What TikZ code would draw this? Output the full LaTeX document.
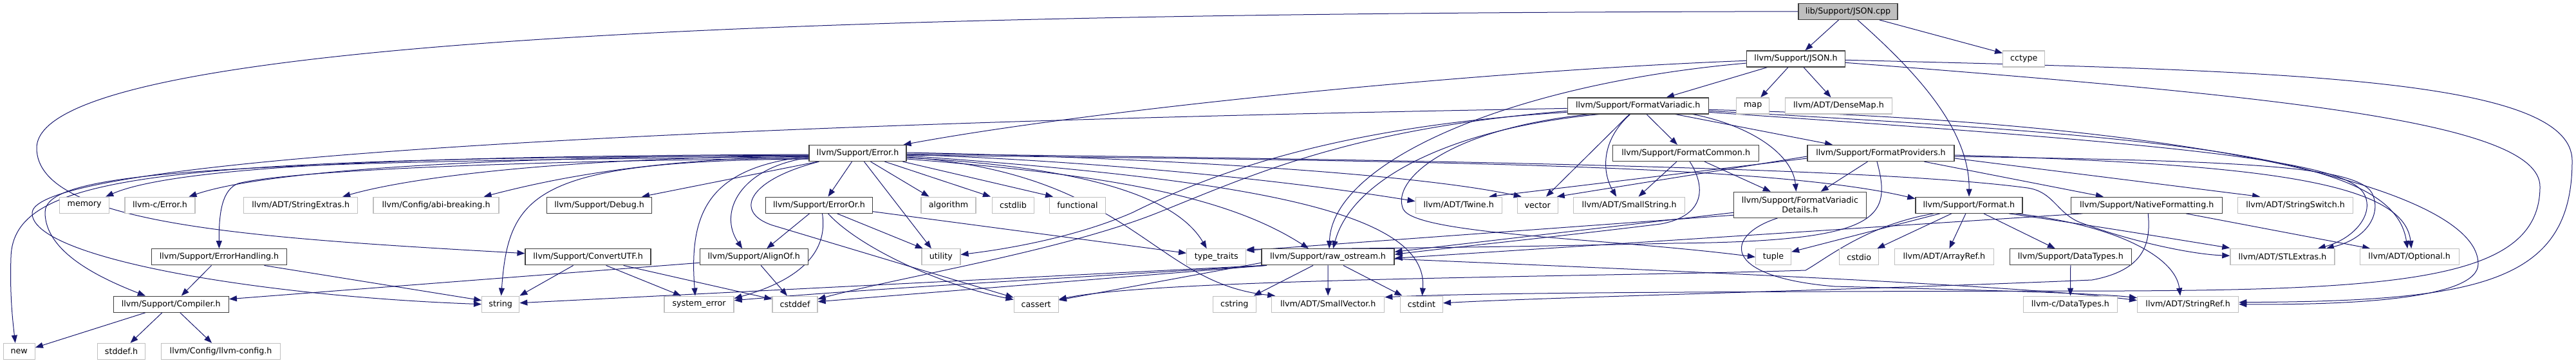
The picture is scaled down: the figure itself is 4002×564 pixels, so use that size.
\documentclass[tikz,border=0pt]{standalone}
\usepackage{fontspec}
\setmainfont{DejaVu Sans}
\usepackage{xcolor}
\usepackage{tikz}
\usetikzlibrary{arrows.meta,backgrounds}
\definecolor{dgEdge}{RGB}{25,25,112}
\definecolor{dgDoc}{RGB}{64,64,64}
\definecolor{dgExt}{RGB}{191,191,191}
\definecolor{dgRoot}{RGB}{191,191,191}

\begin{document}
\begin{tikzpicture}[
  x=1pt, y=-1pt,
  font=\fontsize{12.7}{15}\selectfont,
  hdr/.style={rectangle, inner sep=0pt, minimum height=25pt, line width=1.3pt, fill=white, text=black},
  doc/.style={hdr, draw=dgDoc},
  ext/.style={hdr, draw=dgExt},
  src/.style={hdr, draw=dgDoc, fill=dgRoot},
  bw/.style={minimum width=#1pt},
  inc/.style={draw=dgEdge, line width=1pt, -{Triangle[length=12pt,width=9pt]}}
]
\useasboundingbox (0,0) rectangle (4002,564);

%============ ROW 0-3 ============
\node[src, bw=154] (cpp) at (2871,17.8) {lib/Support/JSON.cpp};
\node[doc, bw=153] (jsonh) at (2790,91.4) {llvm/Support/JSON.h};
\node[ext, bw=65] (cctype) at (3144.2,91.4) {cctype};
\node[doc, bw=219] (fvar) at (2544.7,164.4) {llvm/Support/FormatVariadic.h};
\node[ext, bw=51] (map) at (2723.2,164.4) {map};
\node[ext, bw=166] (densemap) at (2856.5,164.4) {llvm/ADT/DenseMap.h};
\node[doc, bw=151] (errorh) at (1332.5,238) {llvm/Support/Error.h};
\node[doc, bw=227] (fcommon) at (2619.2,238) {llvm/Support/FormatCommon.h};
\node[doc, bw=228] (fprov) at (2922,238) {llvm/Support/FormatProviders.h};

%============ ROW 4 ============
\node[ext, bw=77] (memory) at (131.2,318.7) {memory};
\node[ext, bw=109] (cerror) at (248.5,318.7) {llvm-c/Error.h};
\node[ext, bw=177] (strextras) at (467.2,318.7) {llvm/ADT/StringExtras.h};
\node[ext, bw=195] (abibreak) at (677.6,318.7) {llvm/Config/abi-breaking.h};
\node[doc, bw=163] (debug) at (931.1,318.7) {llvm/Support/Debug.h};
\node[doc, bw=166] (erroror) at (1272.5,318.7) {llvm/Support/ErrorOr.h};
\node[ext, bw=85] (algorithm) at (1473.5,318.7) {algorithm};
\node[ext, bw=65] (cstdlib) at (1574,318.7) {cstdlib};
\node[ext, bw=87] (functional) at (1674,318.7) {functional};
\node[ext, bw=134] (twine) at (2266.2,318.7) {llvm/ADT/Twine.h};
\node[ext, bw=63] (vector) at (2388.7,318.7) {vector};
\node[ext, bw=173] (smallstr) at (2531.2,318.7) {llvm/ADT/SmallString.h};
\node[doc, bw=206, minimum height=40pt, align=center] (fvdetails) at (2796.4,318.3) {llvm/Support/FormatVariadic\\Details.h};
\node[doc, bw=166] (formath) at (3058.9,318.7) {llvm/Support/Format.h};
\node[doc, bw=235] (natfmt) at (3335.2,318.7) {llvm/Support/NativeFormatting.h};
\node[ext, bw=179] (strswitch) at (3566.1,318.7) {llvm/ADT/StringSwitch.h};

%============ ROW 5 ============
\node[doc, bw=210] (errhandling) at (340.5,399.3) {llvm/Support/ErrorHandling.h};
\node[doc, bw=195] (convutf) at (913.6,399.3) {llvm/Support/ConvertUTF.h};
\node[doc, bw=168] (alignof) at (1171.2,399.3) {llvm/Support/AlignOf.h};
\node[ext, bw=60] (utility) at (1461.9,399.3) {utility};
\node[ext, bw=92] (typetraits) at (1889.7,399.3) {type\_traits};
\node[doc, bw=206] (rawos) at (2063,399.3) {llvm/Support/raw\_ostream.h};
\node[ext, bw=55] (tuple) at (2755,399.3) {tuple};
\node[ext, bw=61] (cstdio) at (2888.2,399.3) {cstdio};
\node[ext, bw=154] (arrayref) at (3020.4,399.3) {llvm/ADT/ArrayRef.h};
\node[doc, bw=189] (datatypes) at (3216.8,399.3) {llvm/Support/DataTypes.h};
\node[ext, bw=162] (stlextras) at (3545.9,399.3) {llvm/ADT/STLExtras.h};
\node[ext, bw=154] (optional) at (3743.2,399.3) {llvm/ADT/Optional.h};

%============ ROW 6-7 ============
\node[doc, bw=179] (compiler) at (265.8,472.7) {llvm/Support/Compiler.h};
\node[ext, bw=58] (string) at (777.7,472.7) {string};
\node[ext, bw=108] (syserr) at (1086,472.7) {system\_error};
\node[ext, bw=70] (cstddef) at (1235,472.7) {cstddef};
\node[ext, bw=69] (cassert) at (1609.7,472.7) {cassert};
\node[ext, bw=67] (cstring) at (1917.8,472.7) {cstring};
\node[ext, bw=175] (smallvec) at (2063.2,472.7) {llvm/ADT/SmallVector.h};
\node[ext, bw=66] (cstdint) at (2208.4,472.7) {cstdint};
\node[ext, bw=146] (cdatatypes) at (3216.4,472.7) {llvm-c/DataTypes.h};
\node[ext, bw=157] (stringref) at (3399.1,472.7) {llvm/ADT/StringRef.h};
\node[ext, bw=49] (new) at (29.7,546) {new};
\node[ext, bw=74] (stddef) at (188.5,546) {stddef.h};
\node[ext, bw=185] (llvmconfig) at (343.1,546) {llvm/Config/llvm-config.h};

\begin{scope}[on background layer]
  \fill[white] (0,0) rectangle (4002,564);
  % JSON.cpp
  \draw[inc] (cpp) -- (jsonh);
  \draw[inc] (cpp) -- (cctype);
  \draw[inc] (cpp) .. controls (2975,110) and (3060,200) .. (formath);
  \draw[inc] (cpp.west) .. controls (1400,20) and (57,50) .. (57,230) .. controls (57,350) and (400,370) .. (convutf);
  % JSON.h
  \draw[inc] (jsonh) -- (map);
  \draw[inc] (jsonh) -- (densemap);
  \draw[inc] (jsonh) -- (fvar);
  \draw[inc] (jsonh) .. controls (2300,110) and (1700,170) .. (errorh);
  \draw[inc] (jsonh) .. controls (2350,130) and (2070,250) .. ([xshift=2pt]rawos.north);
  \draw[inc] (jsonh) .. controls (3550,150) and (3946,190) .. (3946,290) .. controls (3946,430) and (3750,450) .. (3300,452) .. controls (2600,453) and (2300,455) .. ([yshift=11pt]smallvec.east);
  \draw[inc] (jsonh) .. controls (3550,110) and (3996,120) .. (3996,250) .. controls (3996,440) and (3850,468) .. ([yshift=3pt]stringref.east);
  % FormatVariadic.h
  \draw[inc] (fvar) -- (fcommon);
  \draw[inc] (fvar) -- (vector);
  \draw[inc] ([xshift=-12pt]fvar.south) .. controls (2485,220) and (2490,270) .. ([xshift=-20pt]smallstr.north);
  \draw[inc] ([xshift=85pt]fvar.south) .. controls (2720,195) and (2785,240) .. ([xshift=-6pt]fvdetails.north);
  \draw[inc] ([xshift=58pt]fvar.south) -- ([xshift=-75pt]fprov.north);
  \draw[inc] ([yshift=-8pt]fvar.east) .. controls (3450,215) and (3720,250) .. ([xshift=-3pt]optional.north);
  \draw[inc] ([yshift=-10pt]fvar.east) .. controls (3400,225) and (3640,250) .. (3672,300) .. controls (3690,330) and (3660,370) .. ([xshift=55pt]stlextras.north);
  \draw[inc] ([yshift=-6pt]fvar.east) .. controls (3450,190) and (3850,300) .. (3850,410) .. controls (3850,465) and (3650,474) .. (stringref.east);
  \draw[inc] ([xshift=-60pt]fvar.south) .. controls (2250,200) and (2100,280) .. ([xshift=8pt]rawos.north);
  \draw[inc] ([xshift=-75pt]fvar.south) .. controls (2250,200) and (2160,280) .. (2180,325) .. controls (2200,365) and (2500,370) .. (tuple.west);
  \draw[inc] ([yshift=-10pt]fvar.west) .. controls (2100,195) and (1900,260) .. (1760,330) .. controls (1680,365) and (1580,385) .. (utility);
  \draw[inc] ([yshift=-8pt]fvar.west) .. controls (2100,200) and (1950,270) .. (1800,330) .. controls (1650,390) and (1400,430) .. ([yshift=8pt]cstddef.east);
  \draw[inc] ([yshift=-4pt]fvar.west) .. controls (1200,190) and (60,240) .. (50,330) .. controls (45,400) and (400,460) .. (string.west);
  % FormatCommon.h
  \draw[inc] (fcommon) -- (smallstr);
  \draw[inc] (fcommon) -- (fvdetails);
  \draw[inc] ([xshift=6pt]fcommon.south) .. controls (2650,290) and (2650,335) .. (2580,348) .. controls (2400,370) and (2250,385) .. ([yshift=4pt]rawos.east);
  % FormatProviders.h
  \draw[inc] (fprov) -- (fvdetails);
  \draw[inc] (fprov) -- (natfmt);
  \draw[inc] ([yshift=-8pt]fprov.west) -- ([xshift=47pt]twine.north);
  \draw[inc] ([yshift=-5pt]fprov.west) -- ([xshift=30pt]vector.north);
  \draw[inc] ([yshift=-8pt]fprov.east) -- ([xshift=-55pt]strswitch.north);
  \draw[inc] ([yshift=-3pt]fprov.east) .. controls (3500,255) and (3735,280) .. ([xshift=3pt]optional.north);
  \draw[inc] ([yshift=-5pt]fprov.east) .. controls (3450,250) and (3660,255) .. (3685,300) .. controls (3700,330) and (3680,370) .. ([xshift=68pt]stlextras.north);
  \draw[inc] ([xshift=-6pt]fprov.south) .. controls (2940,340) and (2920,375) .. (2600,378) .. controls (2300,385) and (2100,386) .. ([yshift=12pt]typetraits.east);
  % FormatVariadicDetails.h
  \draw[inc] ([xshift=-35pt]fvdetails.south) .. controls (2680,365) and (2670,430) .. (2850,445) .. controls (3050,450) and (3250,455) .. ([yshift=10pt]stringref.west);
  \draw[inc] ([yshift=-12pt]fvdetails.west) -- ([yshift=8pt]rawos.east);
  \draw[inc] ([yshift=-16pt]fvdetails.west) -- ([yshift=10pt]typetraits.east);
  % Error.h
  \draw[inc] ([yshift=-2pt]errorh.west) .. controls (700,242) and (280,255) .. ([xshift=33pt]memory.north);
  \draw[inc] ([yshift=-3pt]errorh.west) .. controls (800,243) and (420,262) .. ([xshift=45pt]cerror.north);
  \draw[inc] ([yshift=-4pt]errorh.west) .. controls (900,245) and (650,272) .. ([xshift=65pt]strextras.north);
  \draw[inc] ([yshift=-5pt]errorh.west) .. controls (1000,247) and (850,280) .. ([xshift=74pt]abibreak.north);
  \draw[inc] ([xshift=-62pt]errorh.south) -- ([xshift=66pt]debug.north);
  \draw[inc] (errorh) -- ([xshift=14pt]erroror.north);
  \draw[inc] ([xshift=20pt]errorh.south) -- ([xshift=-30pt]algorithm.north);
  \draw[inc] ([xshift=42pt]errorh.south) -- ([xshift=-35pt]cstdlib.north);
  \draw[inc] ([xshift=70pt]errorh.south) -- ([xshift=-38pt]functional.north);
  \draw[inc] ([xshift=10pt]errorh.south) -- ([xshift=-15pt]utility.north);
  \draw[inc] ([yshift=-7pt]errorh.west) .. controls (1150,260) and (1115,330) .. ([xshift=-18pt]alignof.north);
  \draw[inc] ([yshift=-5pt]errorh.west) .. controls (1100,260) and (1070,330) .. ([xshift=-6pt]syserr.north);
  \draw[inc] ([yshift=-9pt]errorh.west) .. controls (830,250) and (790,300) .. (string);
  \draw[inc] ([yshift=-8pt]errorh.west) .. controls (800,250) and (450,265) .. (370,285) .. controls (345,295) and (340,330) .. (errhandling);
  \draw[inc] ([yshift=-6pt]errorh.west) .. controls (300,250) and (70,270) .. (70,330) .. controls (70,390) and (150,430) .. ([xshift=-40pt]compiler.north);
  \draw[inc] ([yshift=-4pt]errorh.west) .. controls (250,245) and (20,270) .. (17,400) .. controls (15,460) and (20,500) .. ([xshift=-6pt]new.north);
  \draw[inc] ([xshift=-60pt]errorh.south) .. controls (1160,280) and (1140,330) .. (1200,350) .. controls (1350,395) and (1500,440) .. (cassert);
  \draw[inc] ([yshift=-7pt]errorh.east) .. controls (1700,260) and (1830,310) .. ([xshift=-15pt]typetraits.north);
  \draw[inc] ([yshift=-9pt]errorh.east) .. controls (1700,270) and (1900,300) .. ([xshift=-30pt]rawos.north);
  \draw[inc] ([yshift=-4pt]errorh.east) .. controls (1950,280) and (2220,330) .. (cstdint);
  \draw[inc] ([yshift=-6pt]errorh.east) .. controls (1760,270) and (1790,440) .. ([xshift=-82pt]smallvec.north);
  \draw[inc] ([yshift=-2pt]errorh.east) .. controls (1700,250) and (2000,280) .. ([yshift=6pt]twine.west);
  \draw[inc] ([yshift=1pt]errorh.east) .. controls (1800,245) and (2200,270) .. ([xshift=-25pt]vector.north);
  \draw[inc] ([yshift=-3pt]errorh.east) .. controls (2200,250) and (2750,255) .. ([yshift=10pt]formath.west);
  \draw[inc] ([yshift=-1pt]errorh.east) .. controls (2400,250) and (2950,265) .. (3150,292) .. controls (3190,298) and (3195,330) .. (3230,345) .. controls (3300,372) and (3400,395) .. ([yshift=2pt]stlextras.west);
  % ErrorOr.h
  \draw[inc] ([xshift=-15pt]erroror.south) -- ([xshift=20pt]alignof.north);
  \draw[inc] ([xshift=28pt]erroror.south) -- ([xshift=-28pt]utility.north);
  \draw[inc] ([xshift=14pt]erroror.south) .. controls (1330,380) and (1450,440) .. (cassert);
  \draw[inc] ([xshift=5pt]erroror.south) .. controls (1285,380) and (1260,430) .. ([yshift=9pt]syserr.east);
  \draw[inc] ([yshift=-10pt]erroror.east) -- ([yshift=6pt]typetraits.west);
  % AlignOf.h, ErrorHandling.h, ConvertUTF.h
  \draw[inc] ([yshift=-9pt]alignof.west) -- ([yshift=8pt]compiler.east);
  \draw[inc] ([xshift=11pt]alignof.south) -- ([xshift=-12pt]cstddef.north);
  \draw[inc] ([xshift=-12pt]errhandling.south) -- ([xshift=16pt]compiler.north);
  \draw[inc] ([xshift=70pt]errhandling.south) -- ([yshift=6pt]string.west);
  \draw[inc] ([xshift=-23pt]convutf.south) -- (string.north east);
  \draw[inc] ([xshift=28pt]convutf.south) -- ([xshift=-28pt]syserr.north);
  \draw[inc] ([xshift=55pt]convutf.south) -- ([yshift=8pt]cstddef.west);
  % raw_ostream.h
  \draw[inc] (rawos) -- (smallvec);
  \draw[inc] ([xshift=24pt]rawos.south) -- ([xshift=-30pt]cstdint.north);
  \draw[inc] ([xshift=-23pt]rawos.south) -- ([xshift=30pt]cstring.north);
  \draw[inc] ([yshift=-3pt]rawos.east) .. controls (2700,425) and (3150,445) .. ([yshift=6pt]stringref.west);
  \draw[inc] ([yshift=-9pt]rawos.west) -- (cassert);
  \draw[inc] ([xshift=-95pt]rawos.south) -- ([yshift=4pt]cstddef.east);
  \draw[inc] ([xshift=-98pt]rawos.south) .. controls (1700,430) and (1400,445) .. ([yshift=6pt]syserr.east);
  \draw[inc] ([xshift=-100pt]rawos.south) -- ([yshift=2pt]string.east);
  % Format.h
  \draw[inc] ([xshift=-27pt]formath.south) -- ([xshift=28pt]cstdio.north);
  \draw[inc] ([xshift=-5pt]formath.south) -- ([xshift=8pt]arrayref.north);
  \draw[inc] ([xshift=23pt]formath.south) -- ([xshift=-24pt]datatypes.north);
  \draw[inc] ([xshift=-45pt]formath.south) -- ([yshift=8pt]tuple.east);
  \draw[inc] ([xshift=-55pt]formath.south) .. controls (2900,350) and (2840,400) .. (2805,420) .. controls (2500,430) and (1800,432) .. (cassert);
  \draw[inc] ([xshift=62pt]formath.south) .. controls (3250,350) and (3400,375) .. ([yshift=14pt]stlextras.west);
  \draw[inc] ([xshift=73pt]formath.south) .. controls (3290,350) and (3380,400) .. ([xshift=-12pt]stringref.north);
  % the rest
  \draw[inc] (datatypes) -- (cdatatypes);
  \draw[inc] ([xshift=61pt]natfmt.south) -- ([xshift=-61pt]optional.north);
  \draw[inc] ([xshift=-100pt]natfmt.south) -- ([yshift=-2pt]rawos.east);
  \draw[inc] ([xshift=2pt]natfmt.south) .. controls (3342,380) and (3330,420) .. (3250,435) .. controls (2900,450) and (2400,462) .. (cstdint);
  \draw[inc] ([xshift=-40pt]compiler.south) -- ([yshift=6pt]new.east);
  \draw[inc] ([xshift=-14pt]compiler.south) -- ([xshift=14pt]stddef.north);
  \draw[inc] ([xshift=14pt]compiler.south) -- ([xshift=-14pt]llvmconfig.north);
\end{scope}

\end{tikzpicture}
\end{document}
